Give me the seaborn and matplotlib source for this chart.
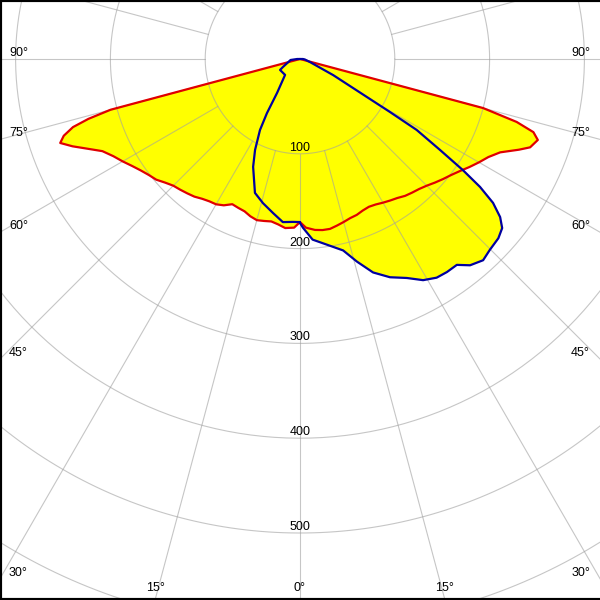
import numpy as np
import pandas as pd
import matplotlib
matplotlib.use("Agg")
import matplotlib.pyplot as plt
import seaborn as sns

# Light distribution curve, angles from nadir (deg), intensity (cd/klm)
# C0 / C180 plane (red)
c0_angles = [0, 2, 5, 7.5, 10, 12.5, 15, 17.5, 20, 22.5, 25, 27.5, 30, 32.5, 35, 37.5,
             40, 42.5, 45, 47.5, 50, 52.5, 55, 57.5, 60, 62.5, 65, 67.5, 69, 71.2,
             72.6, 73.8, 75, 76, 90]
c0_values = [172, 178, 181, 182, 182, 180, 178, 176, 175, 173, 172, 173, 175, 177, 179, 182,
             184, 186, 189, 193, 197, 201, 206, 212, 218, 224, 233, 250, 260, 265,
             258, 238, 200, 0, 0]
c180_angles = [0, 2, 5, 7.5, 10, 12.5, 15, 17.5, 20, 22.5, 25, 27.5, 30, 32.5, 35, 37.5,
               40, 42.5, 45, 47.5, 50, 52.5, 55, 57.5, 60, 62.5, 65, 67.5, 69, 70.7,
               72, 73.3, 74.2, 75, 76, 90]
c180_values = [172, 178, 179, 176, 174, 175, 176, 174, 171, 170, 169, 174, 177, 178, 180, 183,
               185, 187, 189, 193, 198, 201, 205, 210, 216, 222, 230, 246, 257, 268,
               262, 250, 232, 207, 0, 0]

# C90 / C270 plane (blue)
c90_angles = [0, 1, 4, 8.3, 12.7, 15.7, 18.9, 22.4, 26, 29.1, 32, 34.6, 37.3, 39.5, 42.3,
              44.8, 47.9, 50.1, 51.7, 53.3, 54.6, 55.7, 57, 58.7, 59.5, 60.4, 64.1, 73, 85, 90]
c90_values = [173, 178, 191, 198, 207, 222, 238, 249, 257, 267, 272, 273, 273, 282, 287,
              284, 282, 278, 269, 254, 233, 208, 176, 144, 110, 81, 39, 11, 5, 3]
c270_angles = [0, 2.5, 6, 9.9, 14.4, 18.6, 23.5, 26.3, 29.4, 31.4, 34.1, 43.2, 61.2, 64.8, 84, 90]
c270_values = [172, 172, 173, 165, 157, 149, 124, 107, 86, 67, 43, 23, 24, 20, 10, 3]

ring_values = [100, 200, 300, 400, 500, 600, 700]
ring_labels = ["100", "200", "300", "400", "500"]
angle_ticks = [0, 15, 30, 45, 60, 75, 90]

sns.set_theme(style="white")
plt.rcParams['font.family'] = ['Liberation Sans', 'DejaVu Sans']

PX = 0.948          # pixels per cd/klm
CX, CY = 300, 59    # diagram centre in pixels


def to_data(px, py):
    return (px - CX) / PX, (CY - py) / PX


def plane_xy(right_ang, right_val, left_ang, left_val):
    ra = np.radians(right_ang)
    la = np.radians(left_ang)
    rv = np.array(right_val, dtype=float)
    lv = np.array(left_val, dtype=float)
    x = np.concatenate([rv * np.sin(ra), (-lv * np.sin(la))[::-1]])
    y = np.concatenate([-rv * np.cos(ra), (-lv * np.cos(la))[::-1]])
    return pd.DataFrame({"x": x, "y": y})


fig = plt.figure(figsize=(6, 6), dpi=100)
ax = fig.add_axes([0, 0, 1, 1])
ax.set_xlim(-CX / PX, (600 - CX) / PX)
ax.set_ylim(-(600 - CY) / PX, CY / PX)

red = plane_xy(c0_angles, c0_values, c180_angles, c180_values)
blue = plane_xy(c90_angles, c90_values, c270_angles, c270_values)

ax.fill(red["x"], red["y"], color="#ffff00", zorder=1, lw=0)
ax.fill(blue["x"], blue["y"], color="#ffff00", zorder=1, lw=0)

# grid: rings and 15 degree rays starting at the first ring
t = np.linspace(0, 2 * np.pi, 400)
grid_kw = dict(color="#a0a0a0", alpha=0.6, lw=0.8, zorder=2)
for r in ring_values:
    ax.plot(r * np.cos(t), r * np.sin(t), **grid_kw)
for a in range(0, 360, 15):
    ar = np.radians(a)
    ax.plot([100 * np.sin(ar), 1000 * np.sin(ar)], [-100 * np.cos(ar), -1000 * np.cos(ar)], **grid_kw)

sns.lineplot(data=red, x="x", y="y", sort=False, estimator=None, color="#e00000", lw=1.6, ax=ax, zorder=3)
sns.lineplot(data=blue, x="x", y="y", sort=False, estimator=None, color="#0000a0", lw=1.6, ax=ax, zorder=4)

# ring labels
for r, lab in zip(ring_values, ring_labels):
    ax.text(0, -r + 6 / PX, lab, ha="center", va="center", fontsize=9, color="black", zorder=5)

# angle labels at the image border
for side in (-1, 1):
    for a in angle_ticks:
        if a == 0 and side == 1:
            continue
        dx = side * np.sin(np.radians(a))
        dy = np.cos(np.radians(a))
        tx = CX / abs(dx) if abs(dx) > 1e-9 else np.inf
        ty = (600 - CY) / dy if dy > 1e-9 else np.inf
        if tx < ty:
            py = CY + tx * dy - 6
            px = 9 if side < 0 else 590
            ha = "left" if side < 0 else "right"
        else:
            px = CX + ty * dx
            py = 588
            ha = "center"
        xd, yd = to_data(px, py)
        ax.text(xd, yd, f"{a}°", ha=ha, va="center", fontsize=9, color="black", zorder=5)

ax.set_xticks([])
ax.set_yticks([])
ax.set_xlabel("")
ax.set_ylabel("")
for name, sp in ax.spines.items():
    sp.set_visible(name != "right")
    sp.set_color("black")
    sp.set_linewidth(3)
if ax.get_legend():
    ax.get_legend().remove()

fig.savefig("out.png", dpi=100)
